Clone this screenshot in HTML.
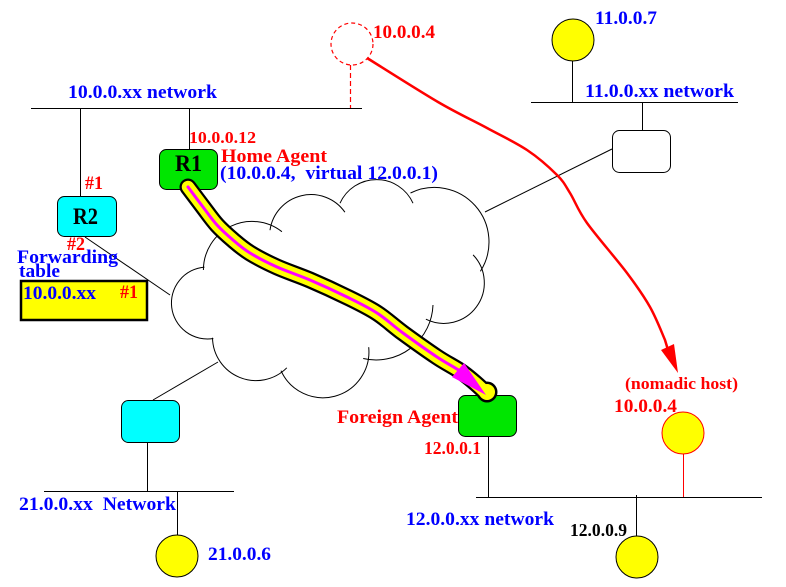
<!DOCTYPE html>
<html><head><meta charset="utf-8"><style>
html,body{margin:0;padding:0;background:#fff;}
svg{display:block;}
text{font-family:"Liberation Serif","DejaVu Serif",serif;font-weight:bold;}
</style></head><body>
<svg width="786" height="587" viewBox="0 0 786 587" xmlns="http://www.w3.org/2000/svg">
<rect width="786" height="587" fill="#fff"/>
<g stroke="#000" stroke-width="1" fill="none">
<line x1="31" y1="108.5" x2="362" y2="108.5"/>
<line x1="80.5" y1="108" x2="80.5" y2="197"/>
<line x1="189.5" y1="108" x2="189.5" y2="150"/>
<line x1="531" y1="102.5" x2="738" y2="102.5"/>
<line x1="572.5" y1="61" x2="572.5" y2="102"/>
<line x1="642.5" y1="102" x2="642.5" y2="130"/>
<line x1="85" y1="237" x2="170" y2="295"/>
<line x1="153" y1="400" x2="218" y2="362"/>
<line x1="485" y1="212" x2="612" y2="149"/>
<line x1="147.5" y1="442" x2="147.5" y2="491"/>
<line x1="44" y1="491.5" x2="234" y2="491.5"/>
<line x1="177.5" y1="491" x2="177.5" y2="535"/>
<line x1="488.5" y1="436" x2="488.5" y2="497"/>
<line x1="476" y1="497.5" x2="762" y2="497.5"/>
<line x1="636.5" y1="495" x2="636.5" y2="537"/>
</g>
<line x1="683.5" y1="454" x2="683.5" y2="497" stroke="#f00" stroke-width="1"/>
<line x1="350.5" y1="65" x2="350.5" y2="108" stroke="#f00" stroke-width="1.2" stroke-dasharray="5,3"/>
<circle cx="352" cy="44" r="21" fill="none" stroke="#f00" stroke-width="1.2" stroke-dasharray="4,3"/>

<!-- cloud -->
<g stroke="#000" stroke-width="1" fill="none">
<path d="M213.3,338.5 A36,36 0 1 1 204.5,267.1"/>
<path d="M203.4,270 A48.6,48.6 0 0 1 281.9,231.7"/>
<path d="M270,230.2 A41.4,41.4 0 0 1 344.9,212.2"/>
<path d="M340,203.2 A40,40 0 0 1 413,203.2"/>
<path d="M410.5,193 A54.5,54.5 0 0 1 480.4,271.3"/>
<path d="M473.1,254.9 A40.5,40.5 0 0 1 425.9,319.2"/>
<path d="M433,305 A57,57 0 0 1 363.2,358.5"/>
<path d="M368.7,347.2 A46,46 0 0 1 281,370.7"/>
<path d="M286.8,367.8 A43.5,43.5 0 0 1 212.5,337.8"/>
</g>

<!-- boxes -->
<g stroke="#000" stroke-width="1">
<rect x="159.5" y="149.5" width="58" height="40" rx="7" fill="#00e600"/>
<rect x="57.5" y="196.5" width="59" height="40" rx="7" fill="#00ffff"/>
<rect x="612.5" y="130.5" width="58" height="42" rx="7" fill="#fff"/>
<rect x="121.5" y="400.5" width="58" height="42" rx="7" fill="#00ffff"/>
<rect x="458.5" y="395.5" width="58" height="41" rx="7" fill="#00e600"/>
<circle cx="573" cy="40" r="21" fill="#ffff00"/>
<circle cx="177" cy="556" r="21" fill="#ffff00"/>
<circle cx="637" cy="557" r="21" fill="#ffff00"/>
</g>
<circle cx="683" cy="433" r="21" fill="#ffff00" stroke="#f00" stroke-width="1"/>
<rect x="21" y="281" width="126" height="39" fill="#ffff00" stroke="#000" stroke-width="2.5"/>

<!-- tube -->
<path d="M188,187 C190.5,190.3 198.2,200.7 203,207 C207.8,213.3 212,219.5 217,225 C222,230.5 227.5,235.3 233,240 C238.5,244.7 242.7,248.5 250,253 C257.3,257.5 267,262.5 277,267 C287,271.5 298.3,275 310,280 C321.7,285 335.8,291.5 347,297 C358.2,302.5 367.7,307 377,313 C386.3,319 393,325.7 403,333 C413,340.3 427,350.3 437,357 C447,363.7 455,367.2 463,373 C471,378.8 481.3,388.2 485,392" fill="none" stroke="#000" stroke-width="17" stroke-linecap="round" stroke-linejoin="round"/>
<circle cx="487" cy="392" r="10.5" fill="#000"/>
<path d="M188,187 C190.5,190.3 198.2,200.7 203,207 C207.8,213.3 212,219.5 217,225 C222,230.5 227.5,235.3 233,240 C238.5,244.7 242.7,248.5 250,253 C257.3,257.5 267,262.5 277,267 C287,271.5 298.3,275 310,280 C321.7,285 335.8,291.5 347,297 C358.2,302.5 367.7,307 377,313 C386.3,319 393,325.7 403,333 C413,340.3 427,350.3 437,357 C447,363.7 455,367.2 463,373 C471,378.8 481.3,388.2 485,392" fill="none" stroke="#ffff00" stroke-width="12.5" stroke-linecap="round" stroke-linejoin="round"/>
<circle cx="487" cy="392" r="8" fill="#ffff00"/>
<path d="M188,187 C190.5,190.3 198.2,200.7 203,207 C207.8,213.3 212,219.5 217,225 C222,230.5 227.5,235.3 233,240 C238.5,244.7 242.7,248.5 250,253 C257.3,257.5 267,262.5 277,267 C287,271.5 298.3,275 310,280 C321.7,285 335.8,291.5 347,297 C358.2,302.5 367.7,307 377,313 C386.3,319 393,325.7 403,333 C413,340.3 427,350.3 437,357 C447,363.7 455,367.2 463,373" fill="none" stroke="#ff00ff" stroke-width="3" stroke-linecap="round" stroke-linejoin="round"/>
<polygon points="452,377 464,363 486,395" fill="#ff00ff"/>

<!-- red curve -->
<path d="M367,58 C378.8,65.3 418,90.3 438,102 C458,113.7 472.2,120 487,128 C501.8,136 515.3,142.2 527,150 C538.7,157.8 549.8,167.8 557,175 C564.2,182.2 565,185 570,193 C575,201 577.5,209.7 587,223 C596.5,236.3 616.5,259 627,273 C637.5,287 643.7,295.8 650,307 C656.3,318.2 661.2,331.2 665,340 L668,350" fill="none" stroke="#f00" stroke-width="2.5" stroke-linejoin="round"/>
<polygon points="661,350 674,344 678,373" fill="#f00"/>

<!-- text -->
<g font-size="19">
<text x="373" y="38" fill="#f00" textLength="62" lengthAdjust="spacingAndGlyphs">10.0.0.4</text>
<text x="68" y="98" fill="#00f" textLength="149" lengthAdjust="spacingAndGlyphs">10.0.0.xx network</text>
<text x="595" y="24" fill="#00f" textLength="62" lengthAdjust="spacingAndGlyphs">11.0.0.7</text>
<text x="585" y="97" fill="#00f" textLength="149" lengthAdjust="spacingAndGlyphs">11.0.0.xx network</text>
<text x="189" y="143" fill="#f00" font-size="17" textLength="67" lengthAdjust="spacingAndGlyphs">10.0.0.12</text>
<text x="175" y="171" fill="#000" font-size="23" textLength="27" lengthAdjust="spacingAndGlyphs">R1</text>
<text x="221" y="162" fill="#f00" textLength="106" lengthAdjust="spacingAndGlyphs">Home Agent</text>
<text x="220" y="179" fill="#00f" textLength="218" lengthAdjust="spacingAndGlyphs" xml:space="preserve">(10.0.0.4,  virtual 12.0.0.1)</text>
<text x="85" y="189" fill="#f00" textLength="18" lengthAdjust="spacingAndGlyphs">#1</text>
<text x="73" y="224" fill="#000" font-size="23" textLength="25" lengthAdjust="spacingAndGlyphs">R2</text>
<text x="67" y="250" fill="#f00" textLength="18" lengthAdjust="spacingAndGlyphs">#2</text>
<text x="17" y="263" fill="#00f" textLength="101" lengthAdjust="spacingAndGlyphs">Forwarding</text>
<text x="19" y="277" fill="#00f" textLength="41" lengthAdjust="spacingAndGlyphs">table</text>
<text x="23" y="299" fill="#00f" textLength="73" lengthAdjust="spacingAndGlyphs">10.0.0.xx</text>
<text x="120" y="298" fill="#f00" textLength="18" lengthAdjust="spacingAndGlyphs">#1</text>
<text x="19" y="510" fill="#00f" textLength="157" lengthAdjust="spacingAndGlyphs" xml:space="preserve">21.0.0.xx  Network</text>
<text x="208" y="560" fill="#00f" textLength="63" lengthAdjust="spacingAndGlyphs">21.0.0.6</text>
<text x="337" y="423" fill="#f00" textLength="121" lengthAdjust="spacingAndGlyphs">Foreign Agent</text>
<text x="424" y="454" fill="#f00" font-size="18" textLength="57" lengthAdjust="spacingAndGlyphs">12.0.0.1</text>
<text x="406" y="525" fill="#00f" textLength="148" lengthAdjust="spacingAndGlyphs">12.0.0.xx network</text>
<text x="570" y="536" fill="#000" font-size="18" textLength="57" lengthAdjust="spacingAndGlyphs">12.0.0.9</text>
<text x="625" y="389" fill="#f00" font-size="17" textLength="113" lengthAdjust="spacingAndGlyphs">(nomadic host)</text>
<text x="614" y="412" fill="#f00" textLength="63" lengthAdjust="spacingAndGlyphs">10.0.0.4</text>
</g>
</svg>
</body></html>
